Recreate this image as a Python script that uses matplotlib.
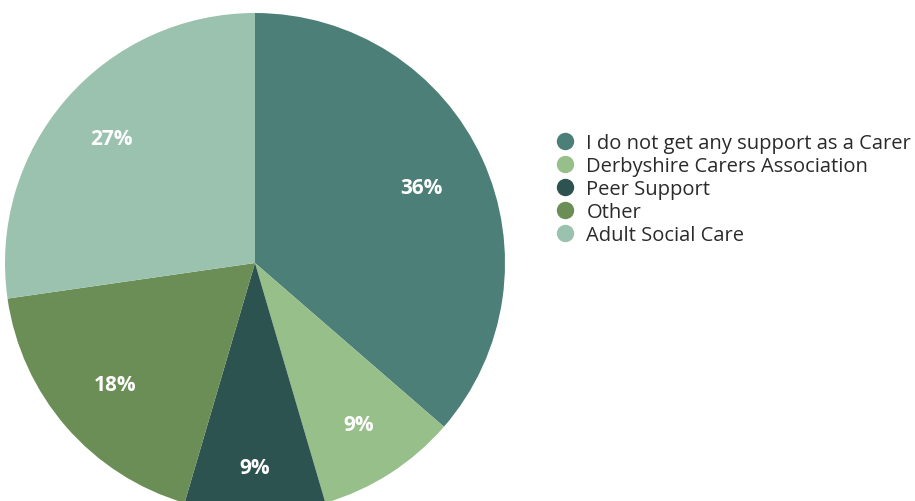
import matplotlib
matplotlib.use("Agg")
import matplotlib.pyplot as plt
from matplotlib.lines import Line2D
import numpy as np

plt.rcParams['font.family'] = ['Open Sans', 'DejaVu Sans']

categories = [
    "I do not get any support as a Carer",
    "Derbyshire Carers Association",
    "Peer Support",
    "Other",
    "Adult Social Care",
]
values = [36, 9, 9, 18, 27]
colors = ["#4C7F77", "#97BF8A", "#2D5350", "#6A8E55", "#9AC2AE"]
label_dist = [0.73, 0.77, 0.82, 0.74, 0.76]

W, H = 915, 502
fig = plt.figure(figsize=(W / 100, H / 100), dpi=100)
cx, cy, r = 255, 264, 250
ax = fig.add_axes([(cx - r) / W, (H - cy - r) / H, 2 * r / W, 2 * r / H])
ax.axis('off')

wedges, _ = ax.pie(values, colors=colors, startangle=90, counterclock=False,
                   radius=1.0, center=(0, 0), frame=False,
                   wedgeprops=dict(linewidth=0))
ax.set_xlim(-1, 1)
ax.set_ylim(-1, 1)
ax.set_aspect('equal')

for w, v, d in zip(wedges, values, label_dist):
    ang = np.deg2rad((w.theta1 + w.theta2) / 2)
    ax.text(d * np.cos(ang), d * np.sin(ang), f"{v}%", ha='center', va='center',
            color='white', fontsize=15, fontweight='bold')

handles = [Line2D([], [], marker='o', linestyle='none', markersize=11.5,
                  markerfacecolor=c, markeredgecolor=c) for c in colors]
fig.legend(handles, categories, loc='upper left',
           bbox_to_anchor=(548 / W, 1 - 126 / H), frameon=False,
           fontsize=14.5, labelspacing=0.15, handletextpad=0.6,
           handlelength=0.9, borderaxespad=0, labelcolor='#2a2a2a')

fig.savefig("out.png", dpi=100)
